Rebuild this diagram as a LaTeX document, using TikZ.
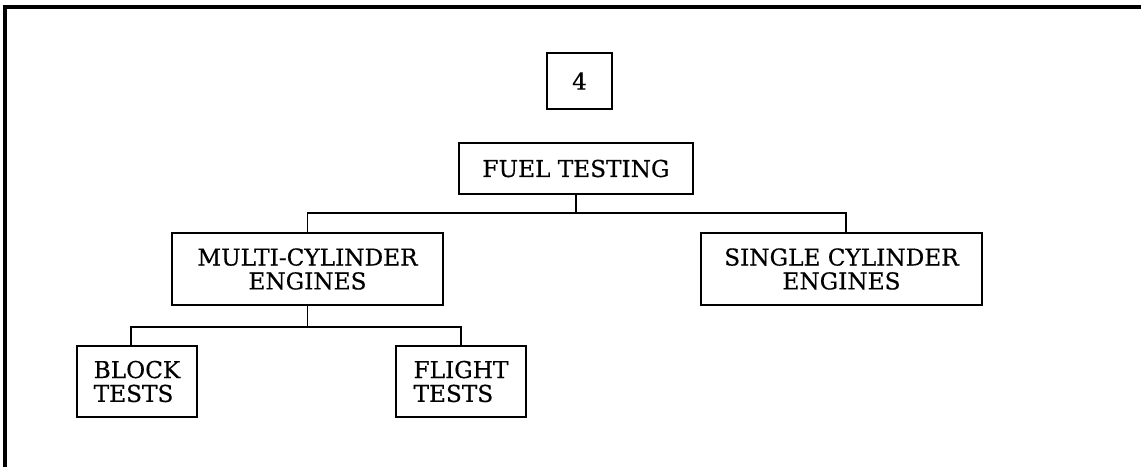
\documentclass[tikz,border=0pt]{standalone}
\usepackage{fontspec}
\setmainfont[FakeBold=0.5]{DejaVu Serif}
\usepackage{tikz}
\usetikzlibrary{positioning,calc}
\tikzset{
  box/.style={draw=black, line width=1.3pt, align=center, inner sep=0pt,
              font=\fontsize{13.2}{13.6}\selectfont},
  leftbox/.style={box, align=left},
  link/.style={draw=black, line width=0.9pt},
  frame/.style={draw=black, line width=2pt}
}
\begin{document}
\begin{tikzpicture}[x=0.02cm, y=-0.02cm]
\useasboundingbox (0,0) rectangle (1141,467);
\draw[frame] (5,467) -- (5,7) -- (1141,7);
\node[box, minimum width=65*0.02cm, minimum height=56*0.02cm] (num) at (579.5,81) {4};
\node[box, minimum width=234*0.02cm, minimum height=51*0.02cm] (fuel) at (576,168.5) {FUEL TESTING};
\node[box, minimum width=271*0.02cm, minimum height=72*0.02cm] (multi) at (307.5,269) {MULTI-CYLINDER\\ENGINES};
\node[box, minimum width=281*0.02cm, minimum height=72*0.02cm] (single) at (841.5,269) {SINGLE CYLINDER\\ENGINES};
\node[leftbox, minimum width=120*0.02cm, minimum height=71*0.02cm] (block) at (137,381.5) {BLOCK\\TESTS};
\node[leftbox, minimum width=130*0.02cm, minimum height=71*0.02cm] (flight) at (461,381.5) {FLIGHT\\TESTS};
% bus lines
\coordinate (fbus) at (fuel.south |- 0,213);
\coordinate (mbus) at (multi.south |- 0,327);
\draw[link, line width=1.4pt] (fuel.south) -- (fbus);
\draw[link] (multi.north) |- (fbus) -| ([xshift=4.5*0.02cm]single.north);
\draw[link] (multi.south) -- (mbus);
\draw[link] ([xshift=-6*0.02cm]block.north) |- (mbus) -| (flight.north);
\end{tikzpicture}
\end{document}
